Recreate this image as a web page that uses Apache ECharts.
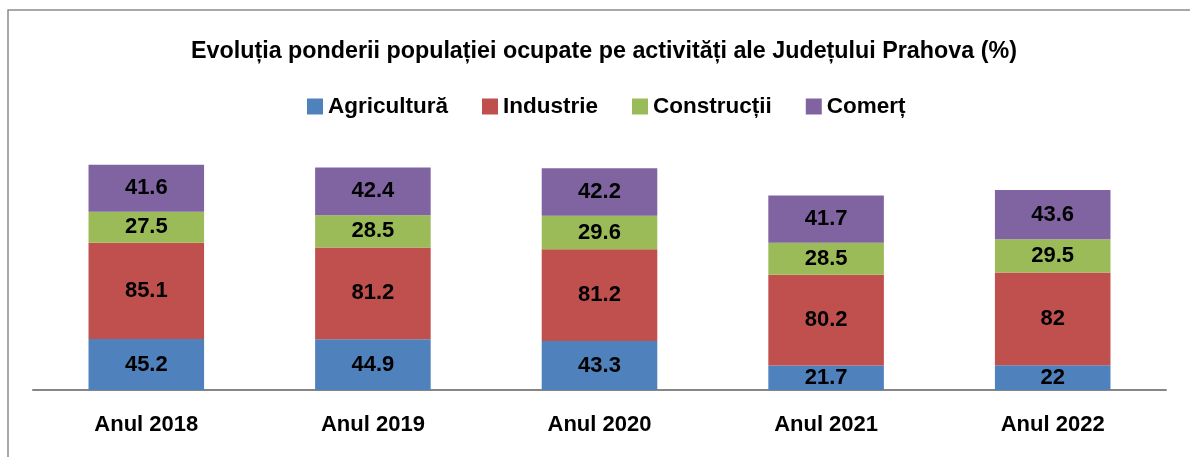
<!DOCTYPE html>
<html>
<head>
<meta charset="utf-8">
<script src="https://cdn.jsdelivr.net/npm/echarts@6/dist/echarts.min.js"></script>
<style>
  html, body { margin: 0; padding: 0; background: #fff; }
  #chart { width: 1190px; height: 457px; }
</style>
</head>
<body>
<div id="chart"></div>
<script>
  // date grafic
  var categories = ['Anul 2018', 'Anul 2019', 'Anul 2020', 'Anul 2021', 'Anul 2022'];
  var agricultura = [45.2, 44.9, 43.3, 21.7, 22];
  var industrie = [85.1, 81.2, 81.2, 80.2, 82];
  var constructii = [27.5, 28.5, 29.6, 28.5, 29.5];
  var comert = [41.6, 42.4, 42.2, 41.7, 43.6];

  var fontFam = 'Liberation Sans, Arial, sans-serif';

  function serie(name, data, color) {
    return {
      name: name,
      type: 'bar',
      stack: 'total',
      data: data,
      barWidth: '51%',
      itemStyle: { color: color },
      label: {
        show: true,
        position: 'inside',
        color: '#000',
        fontWeight: 'bold',
        fontSize: 22,
        fontFamily: fontFam
      }
    };
  }

  var chart = echarts.init(document.getElementById('chart'));
  chart.setOption({
    animation: false,
    title: {
      text: 'Evoluția ponderii populației ocupate pe activități ale Județului Prahova (%)',
      left: 186,
      top: 35,
      textStyle: { fontSize: 23.3, fontWeight: 'bold', color: '#000', fontFamily: fontFam }
    },
    legend: {
      top: 90,
      left: 302,
      itemWidth: 16,
      itemHeight: 16,
      itemGap: 34,
      icon: 'rect',
      textStyle: { fontSize: 22.5, fontWeight: 'bold', color: '#000', fontFamily: fontFam }
    },
    graphic: [{
      type: 'rect',
      shape: { x: 8, y: 10, width: 1400, height: 600 },
      style: { fill: 'none', stroke: '#8c8c8c', lineWidth: 1.5 },
      silent: true
    }],
    grid: { left: 33, right: 24, top: 164, bottom: 67 },
    xAxis: {
      type: 'category',
      data: categories,
      axisLine: { lineStyle: { color: '#868686', width: 2 } },
      axisTick: { show: false },
      axisLabel: {
        margin: 24,
        color: '#000',
        fontWeight: 'bold',
        fontSize: 22,
        fontFamily: fontFam
      }
    },
    yAxis: {
      type: 'value',
      min: 0,
      max: 200,
      show: false,
      splitLine: { show: false }
    },
    series: [
      serie('Agricultură', agricultura, '#4F81BD'),
      serie('Industrie', industrie, '#C0504D'),
      serie('Construcții', constructii, '#9BBB59'),
      serie('Comerț', comert, '#8064A2')
    ]
  });
</script>
</body>
</html>
